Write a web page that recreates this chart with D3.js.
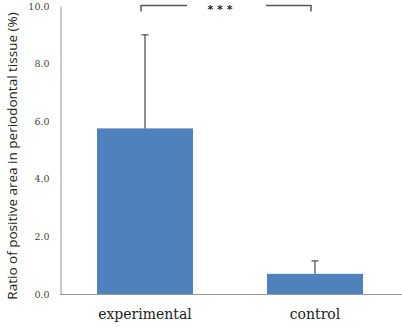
<!DOCTYPE html>
<html>
<head>
<meta charset="utf-8">
<script src="https://cdn.jsdelivr.net/npm/d3@7"></script>
<style>
  body { margin: 0; background: #fff; }
  svg { display: block; }
</style>
</head>
<body>
<div id="chart"></div>
<script>
// data
const groups = ['experimental', 'control'];
const means = [5.75, 0.7];
const errUpper = [9.0, 1.15];
const yTicks = [0, 2, 4, 6, 8, 10];
const sigLabel = '* * *';

const width = 402;
const height = 327;
const margin = { top: 6, right: 2, bottom: 33, left: 60 };

const svg = d3.select('#chart').append('svg')
    .attr('width', width)
    .attr('height', height);

const x = d3.scaleBand()
    .domain(groups)
    .range([margin.left, width - margin.right])
    .paddingInner(0.435)
    .paddingOuter(0.2175);

const y = d3.scaleLinear()
    .domain([0, 10])
    .range([height - margin.bottom, margin.top]);

// y axis (line + labels only)
const yAxis = svg.append('g')
    .attr('transform', `translate(${margin.left + 0.5},0)`)
    .attr('font-family', '"DejaVu Serif", serif')
    .attr('font-size', 9.5)
    .call(d3.axisLeft(y).tickValues(yTicks).tickSize(0).tickPadding(11).tickFormat(d3.format('.1f')));
yAxis.attr('font-family', '"DejaVu Serif", serif').attr('font-size', 9.5);
yAxis.select('.domain').attr('stroke', '#999');
yAxis.selectAll('text').attr('fill', '#444');

// bars
svg.append('g')
    .selectAll('rect')
    .data(groups)
    .enter().append('rect')
    .attr('x', d => x(d))
    .attr('width', x.bandwidth())
    .attr('y', (d, i) => y(means[i]))
    .attr('height', (d, i) => y(0) - y(means[i]))
    .attr('fill', '#4f81bd');

// error bars
const eb = svg.append('g').attr('stroke', '#555').attr('stroke-width', 1.3);
groups.forEach((g, i) => {
    const cx = x(g) + x.bandwidth() / 2;
    eb.append('line')
        .attr('x1', cx).attr('x2', cx)
        .attr('y1', y(means[i])).attr('y2', y(errUpper[i]));
    eb.append('line')
        .attr('x1', cx - 3.5).attr('x2', cx + 3.5)
        .attr('y1', y(errUpper[i])).attr('y2', y(errUpper[i]));
});

// baseline
svg.append('line')
    .attr('x1', margin.left).attr('x2', width)
    .attr('y1', y(0) + 0.5).attr('y2', y(0) + 0.5)
    .attr('stroke', '#999');

// category labels
svg.append('g')
    .selectAll('text')
    .data(groups)
    .enter().append('text')
    .attr('x', d => x(d) + x.bandwidth() / 2)
    .attr('y', height - 8)
    .attr('text-anchor', 'middle')
    .attr('fill', '#222')
    .style('font-family', '"DejaVu Serif", serif')
    .style('font-size', '14px')
    .text(d => d);

// significance bracket
const bx1 = x(groups[0]) + x.bandwidth() / 2 - 4;
const bx2 = x(groups[1]) + x.bandwidth() / 2 - 4;
const by = y(10) - 0.5;
const mid = (bx1 + bx2) / 2;
const br = svg.append('g').attr('stroke', '#555').attr('stroke-width', 1.5).attr('fill', 'none');
br.append('path').attr('d', `M${bx1},${by + 6}V${by}H${mid - 39}`);
br.append('path').attr('d', `M${mid + 40},${by}H${bx2}V${by + 6}`);
svg.append('text')
    .attr('x', mid - 6)
    .attr('y', by + 7)
    .attr('text-anchor', 'middle')
    .attr('fill', '#222')
    .style('font-family', '"DejaVu Sans", sans-serif')
    .style('font-size', '11px')
    .style('font-weight', 'bold')
    .text(sigLabel);

// y axis title
svg.append('text')
    .attr('transform', `translate(17,${(y(0) + y(10)) / 2 + 6}) rotate(-90)`)
    .attr('text-anchor', 'middle')
    .attr('fill', '#222')
    .style('font-family', '"Open Sans", sans-serif')
    .style('font-size', '13.5px')
    .text('Ratio of positive area in periodontal tissue (%)');
</script>
</body>
</html>
